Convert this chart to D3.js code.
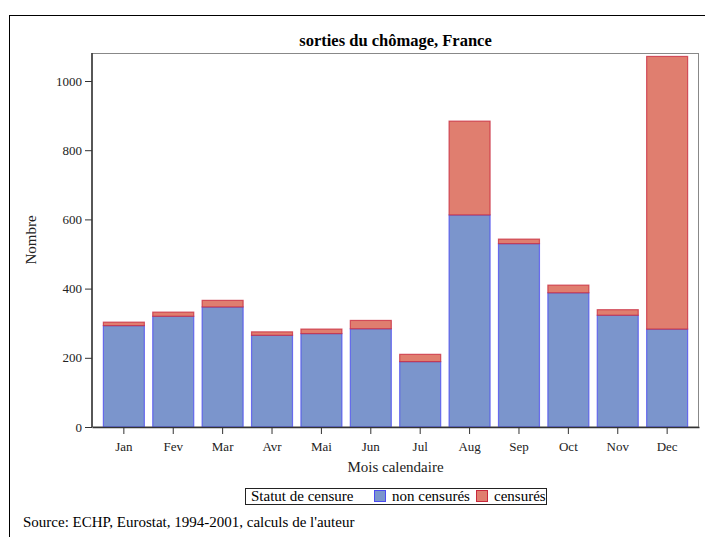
<!DOCTYPE html>
<html>
<head>
<meta charset="utf-8">
<script src="https://cdn.jsdelivr.net/npm/d3@7"></script>
<style>
  body { margin: 0; background: #fff; }
  svg { display: block; font-family: "Liberation Serif", "Times New Roman", serif; }
</style>
</head>
<body>
<svg id="chart" width="705" height="537"></svg>
<script>
// values
var months = ["Jan", "Fev", "Mar", "Avr", "Mai", "Jun", "Jul", "Aug", "Sep", "Oct", "Nov", "Dec"];
var nonCensures = [293, 320, 347, 265, 270, 284, 189, 613, 530, 388, 323, 283];
var censures = [10, 12, 19, 10, 13, 24, 21, 271, 13, 22, 16, 788];
var yTicks = [0, 200, 400, 600, 800, 1000];

var svg = d3.select("#chart");
var margin = {left: 92, right: 6, top: 53, bottom: 110};
var W = 705, H = 537;

// outer frame (runs past the window on the right and bottom)
svg.append("rect")
    .attr("x", 9.5).attr("y", 15.5)
    .attr("width", 720).attr("height", 540)
    .attr("fill", "none").attr("stroke", "#000").attr("stroke-width", 1);

var x = d3.scaleBand()
    .domain(months)
    .range([margin.left, W - margin.right])
    .paddingInner(0.15)
    .paddingOuter(0.22);

var y = d3.scaleLinear()
    .domain([0, 1000])
    .range([427, 81]);

var rows = months.map(function(m, i) {
    return {month: m, non: nonCensures[i], cens: censures[i]};
});
var stack = d3.stack().keys(["non", "cens"])(rows);

var fills = {non: "#7b95cc", cens: "#e07e6f"};
var strokes = {non: "#4b4bf0", cens: "#c8283c"};

var plotTop = margin.top, plotBottom = 427;

// plot frame
svg.append("rect")
    .attr("x", margin.left).attr("y", plotTop + 0.5)
    .attr("width", W - margin.right - margin.left - 0.5)
    .attr("height", plotBottom - plotTop - 0.5)
    .attr("fill", "none").attr("stroke", "#888").attr("stroke-width", 1);

var layers = svg.selectAll("g.layer")
    .data(stack)
    .enter().append("g")
    .attr("class", "layer");

layers.selectAll("rect")
    .data(function(d) { return d.map(function(p) { p.key = d.key; return p; }); })
    .enter().append("rect")
    .attr("x", function(d) { return x(d.data.month) + 0.5; })
    .attr("y", function(d) { return y(d[1]); })
    .attr("width", x.bandwidth() - 1)
    .attr("height", function(d) { return y(d[0]) - y(d[1]); })
    .attr("fill", function(d) { return fills[d.key]; })
    .attr("stroke", function(d) { return strokes[d.key]; })
    .attr("stroke-opacity", 0.75)
    .attr("stroke-width", 1.2);

// axes
var xAxis = svg.append("g")
    .attr("transform", "translate(0," + plotBottom + ")")
    .call(d3.axisBottom(x).tickSize(7).tickSizeOuter(0));
xAxis.select(".domain").attr("stroke", "#333").attr("stroke-width", 1.5);
xAxis.selectAll(".tick line").attr("stroke", "#333");
xAxis.selectAll(".tick text")
    .attr("font-size", 13).attr("fill", "#222").attr("dy", "1.1em")
    .style("font-family", "Liberation Serif");

var yAxis = svg.append("g")
    .attr("transform", "translate(" + margin.left + ",0)")
    .call(d3.axisLeft(y).tickValues(yTicks).tickFormat(d3.format("d")).tickSize(7).tickSizeOuter(0));
yAxis.select(".domain").attr("d", "M0," + plotBottom + "V" + plotTop)
    .attr("stroke", "#333").attr("stroke-width", 1.5);
yAxis.selectAll(".tick line").attr("stroke", "#333");
yAxis.selectAll(".tick text")
    .attr("font-size", 13).attr("fill", "#222").attr("x", -10)
    .style("font-family", "Liberation Serif");

// titles
var cx = (margin.left + W - margin.right) / 2;
svg.append("text")
    .attr("x", cx).attr("y", 46)
    .attr("text-anchor", "middle")
    .attr("font-size", 16.5).attr("font-weight", "bold")
    .text("sorties du chômage, France");

svg.append("text")
    .attr("x", cx).attr("y", 472)
    .attr("text-anchor", "middle")
    .attr("font-size", 15).attr("fill", "#222")
    .text("Mois calendaire");

svg.append("text")
    .attr("transform", "translate(36,240) rotate(-90)")
    .attr("text-anchor", "middle")
    .attr("font-size", 15).attr("fill", "#222")
    .text("Nombre");

// legend
var legend = svg.append("g");
legend.append("rect")
    .attr("x", 245.5).attr("y", 488.5)
    .attr("width", 301).attr("height", 16)
    .attr("fill", "#fff").attr("stroke", "#222").attr("stroke-width", 1);
legend.append("text")
    .attr("x", 251).attr("y", 501)
    .attr("font-size", 15)
    .text("Statut de censure");

var legendItems = [
    {key: "non", label: "non censurés", x: 374},
    {key: "cens", label: "censurés", x: 476}
];
legendItems.forEach(function(it) {
    legend.append("rect")
        .attr("x", it.x + 0.5).attr("y", 490.5)
        .attr("width", 11).attr("height", 11)
        .attr("fill", fills[it.key]).attr("stroke", strokes[it.key]).attr("stroke-width", 1);
    legend.append("text")
        .attr("x", it.x + 18).attr("y", 501)
        .attr("font-size", 15)
        .text(it.label);
});

svg.append("text")
    .attr("x", 23).attr("y", 527)
    .attr("font-size", 15)
    .text("Source: ECHP, Eurostat, 1994-2001, calculs de l'auteur");
</script>
</body>
</html>
